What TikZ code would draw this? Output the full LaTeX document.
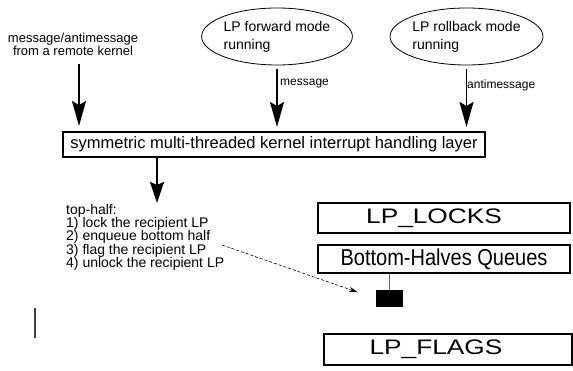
\documentclass[tikz,border=0pt]{standalone}
\usepackage{fontspec}
\setmainfont{Liberation Sans}
\newfontfamily\widesf[FakeStretch=1.25]{Liberation Sans}
\newfontfamily\narrowsf[FakeStretch=0.87]{Liberation Sans}
\usetikzlibrary{arrows.meta,positioning,shapes.geometric}
\tikzset{
	bigarrow/.style={line width=1.8pt,-{Stealth[length=25pt,width=14pt,inset=4pt]}},
	mode/.style={draw,ellipse,line width=0.8pt,minimum width=141pt,minimum height=57pt,inner sep=0pt,align=left,font=\fontsize{14}{18}\selectfont},
	tag/.style={font=\fontsize{12}{12}\selectfont,anchor=west,inner sep=0pt},
	store/.style={draw,line width=1.1pt,inner sep=0pt},
}

\begin{document}
\begin{tikzpicture}[x=1pt,y=-1pt]
		%%%%% START %%%%%
		\useasboundingbox (0,0) rectangle (573,371);
		
		\node[align=center,inner sep=0pt,font=\fontsize{13}{13}\selectfont] (remote) at (73,44.5) {message/antimessage\\from a remote kernel};
		\node[mode] (fwd) at (277,36.5) {LP forward mode\\running};
		\node[mode] (rbk) at (466.5,36.5) {LP rollback mode\\running};
		
		\node[draw,line width=2pt,minimum width=422pt,minimum height=25pt,inner sep=0pt,font=\fontsize{16.5}{16.5}\selectfont] (layer) at (274,144.5) {symmetric multi-threaded kernel interrupt handling layer};
		
		\coordinate (remotetop) at (79,64);
		\coordinate (remotetip) at (79,126);
		\draw[bigarrow] (remotetop) -- (remotetip);
		\draw[bigarrow,shorten <=4pt,shorten >=4pt] (fwd.south) -- (fwd.south |- layer.north);
		\draw[bigarrow,shorten <=4pt,shorten >=4pt] (rbk.south) -- (rbk.south |- layer.north);
		
		\node[tag] (msg) at (280,84) {message};
		\node[tag] (amsg) at (467,85) {antimessage};
		
		\coordinate (thtip) at (157,203);
		\draw[bigarrow,-{Stealth[length=21pt,width=14pt,inset=3pt]}] (layer.south -| thtip) -- (thtip);
		\node[anchor=north west,inner sep=0pt,align=left,font=\fontsize{14}{13.3}\selectfont] (tophalf) at (66,204) {top-half:\\1) lock the recipient LP\\2) enqueue bottom half\\3) flag the recipient LP\\4) unlock the recipient LP};
		
		\node[store,minimum width=252pt,minimum height=30pt,font=\widesf\fontsize{21}{21}\selectfont] (locks) at (444,218) {LP\_LOCKS\hspace*{20pt}};
		\node[store,minimum width=252pt,minimum height=28pt,font=\narrowsf\fontsize{23}{23}\selectfont] (bhq) at (444,259) {Bottom-Halves Queues};
		\node[store,minimum width=248pt,minimum height=31pt,font=\widesf\fontsize{21}{21}\selectfont] (flags) at (448,349.5) {LP\_FLAGS\hspace*{24pt}};
		
		\node[fill=black,minimum width=27pt,minimum height=17pt,inner sep=0pt] (slot) at (389.5,298.5) {};
		\draw[black!60,line width=0.8pt] (bhq.south -| slot.north) -- (slot.north);
		
		\coordinate (enq) at (222,245);
		\draw[densely dashed,line width=0.6pt,shorten >=19pt,-{Stealth[length=9pt,width=5pt]}] (enq) -- (slot.west);
		
		\coordinate (stubtop) at (35,308);
		\coordinate (stubbot) at (35,338);
		\draw[line width=1.2pt,black!75] (stubtop) -- (stubbot);
		
		%%%%% END %%%%%
\end{tikzpicture}
\end{document}
